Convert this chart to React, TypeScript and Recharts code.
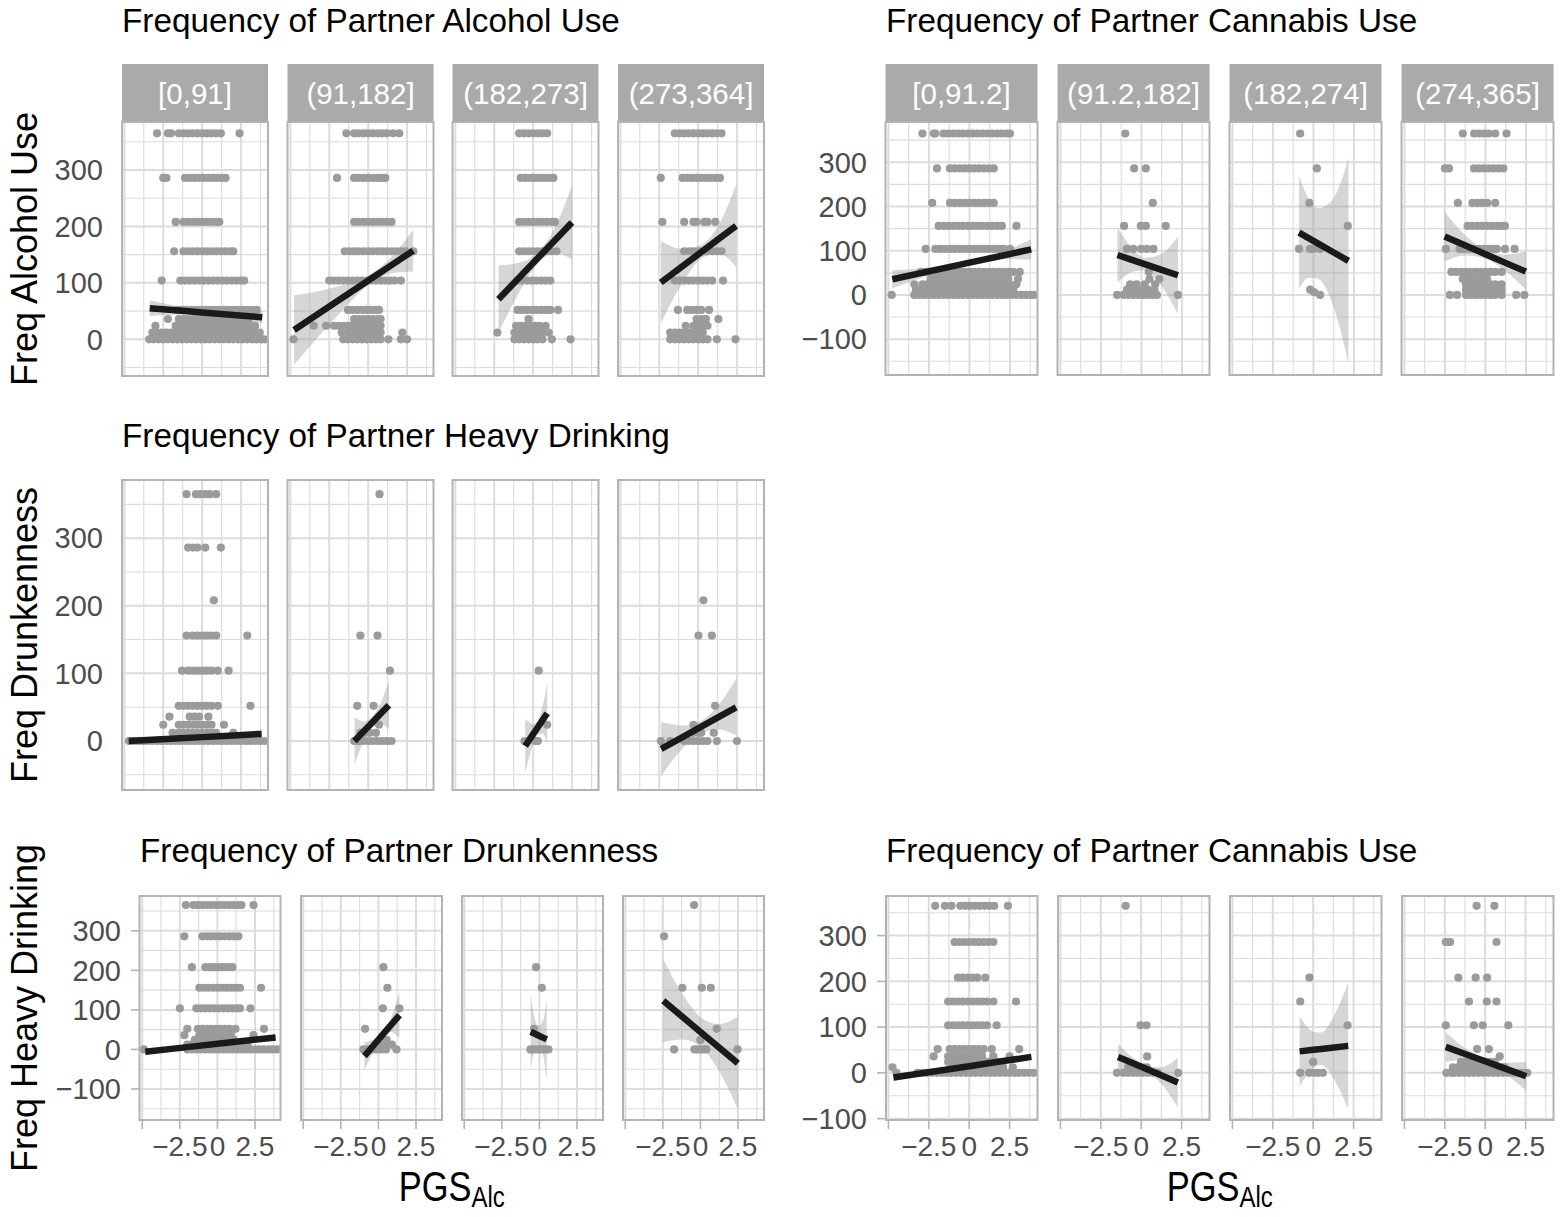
import React from "react";
import { Area, CartesianGrid, ComposedChart, Line, Scatter, XAxis, YAxis } from "recharts";

const FONT = "'Liberation Sans', Arial, Helvetica, sans-serif";
const POINT = "#9B9B9B";
const BORDER = "#B3B3B3";
const GRID = "#DCDCDC";
const STRIP = "#AAAAAA";
const TICK_TEXT = "#4D4D4D";

// shared PGS axis
const X_DOMAIN: [number, number] = [-5.15, 4.23];
const X_TICKS = [-5, -2.5, 0, 2.5];
const X_MINOR = [-3.75, -1.25, 1.25, 3.75];

const A_STRIPS = ["[0,91]", "(91,182]", "(182,273]", "(273,364]"];
const B_STRIPS = ["[0,91.2]", "(91.2,182]", "(182,274]", "(274,365]"];

const A_Y_TICKS = [0, 100, 200, 300];
const B_Y_TICKS = [-100, 0, 100, 200, 300];
const C_Y_TICKS = [0, 100, 200, 300];
const D_Y_TICKS = [-100, 0, 100, 200, 300];
const E_Y_TICKS = [-100, 0, 100, 200, 300];
const A_Y_MINOR = [-50, 50, 150, 250, 350];
const B_Y_MINOR = [-150, -50, 50, 150, 250, 350];
const C_Y_MINOR = [-50, 50, 150, 250, 350];
const D_Y_MINOR = [-150, -50, 50, 150, 250, 350];
const E_Y_MINOR = [-50, 50, 150, 250, 350];

// points: each row is [frequency, ...PGS values]
const A1_PTS = [
  [365, -2.9, -2.2, -2.0, -1.5, -1.2, -0.9, -0.6, -0.3, 0, 0.3, 0.6, 0.9, 1.2, 2.4],
  [286, -2.5, -2.3, -1.1, -0.8, -0.5, -0.2, 0.1, 0.4, 0.7, 1.0, 1.3, 1.5],
  [208, -1.7, -1.2, -0.9, -0.6, -0.3, 0, 0.3, 0.6, 0.9, 1.1],
  [156, -1.8, -1.2, -0.9, -0.6, -0.3, 0, 0.3, 0.6, 0.9, 1.2, 1.5, 1.8, 2.0],
  [104, -2.6, -1.4, -1.1, -0.8, -0.5, -0.2, 0.1, 0.4, 0.7, 1.0, 1.3, 1.6, 1.9, 2.2, 2.5, 2.7],
  [52, -1.6, -1.3, -1.0, -0.7, -0.4, -0.1, 0.2, 0.5, 0.8, 1.1, 1.4, 1.7, 2.0, 2.3, 2.6, 2.9, 3.2, 3.5],
  [36, -2.2, -1.5, -1.2, -0.9, -0.6, -0.3, 0, 0.3, 0.6, 0.9, 1.2, 1.5, 1.8, 2.1, 2.4, 2.7, 3.0],
  [24, -3.0, -1.7, -1.4, -1.1, -0.8, -0.5, -0.2, 0.1, 0.4, 0.7, 1.0, 1.3, 1.6, 1.9, 2.2, 2.5, 2.8, 3.1, 3.4],
  [12, -3.2, -2.9, -2.6, -2.3, -2.0, -1.7, -1.4, -1.1, -0.8, -0.5, -0.2, 0.1, 0.4, 0.7, 1.0, 1.3, 1.6, 1.9, 2.2, 2.5, 2.8, 3.1, 3.4, 3.7],
  [0, -3.4, -3.1, -2.8, -2.5, -2.2, -1.9, -1.6, -1.3, -1.0, -0.7, -0.4, -0.1, 0.2, 0.5, 0.8, 1.1, 1.4, 1.7, 2.0, 2.3, 2.6, 2.9, 3.2, 3.5, 3.8, 4.0],
];
const A2_PTS = [
  [365, -1.4, -0.9, -0.6, -0.3, 0, 0.3, 0.6, 0.9, 1.2, 1.6, 2.0],
  [286, -2.0, -0.9, -0.6, -0.3, 0, 0.3, 0.6, 0.9, 1.1],
  [208, -0.9, -0.6, -0.3, 0, 0.3, 0.6, 0.9, 1.2, 1.5],
  [156, -1.5, -1.2, -0.9, -0.6, -0.3, 0, 0.3, 0.6, 0.9, 1.2, 1.5, 1.8, 2.1, 2.4, 2.9],
  [104, -2.5, -2.2, -1.9, -1.6, -1.3, -1.0, -0.7, -0.4, -0.1, 0.2, 0.5, 0.8, 1.1, 1.4, 1.7, 2.1],
  [52, -1.3, -1.0, -0.7, -0.4, -0.1, 0.2, 0.5, 0.7],
  [36, -0.9, -0.6, -0.3, 0, 0.3, 0.6, 0.8],
  [24, -3.5, -2.7, -2.2, -1.9, -1.6, -1.3, -1.0, -0.7, -0.4, -0.1, 0.2, 0.5, 0.8],
  [12, -1.7, -1.3, -1.0, -0.7, -0.4, -0.1, 0.2, 0.5, 0.8, 2.2],
  [0, -4.8, -1.6, -1.3, -1.0, -0.7, -0.4, -0.1, 0.2, 0.5, 0.8, 1.3, 2.1, 2.5],
];
const A3_PTS = [
  [365, -0.9, -0.6, -0.3, 0, 0.3, 0.6, 0.9],
  [286, -0.8, -0.5, -0.2, 0.1, 0.4, 0.7, 1.0, 1.3],
  [208, -0.9, -0.6, -0.3, 0, 0.3, 0.6, 0.9, 1.2, 1.4],
  [156, -0.9, -0.6, -0.3, 0, 0.3, 0.6, 0.9, 1.2, 1.5],
  [104, -1.0, -0.7, -0.4, -0.1, 0.2, 0.5, 0.8, 1.1],
  [52, -1.0, -0.7, -0.4, -0.1, 0.2, 0.5, 0.8, 1.1, 1.6],
  [36, -0.3],
  [24, -1.1, -0.8, -0.5, -0.2, 0.1, 0.4, 0.8],
  [12, -2.3, -1.2, -0.9, -0.6, -0.3, 0, 0.3, 0.6, 1.0],
  [0, -1.2, -0.9, -0.6, -0.3, 0, 0.3, 0.6, 1.2, 2.4],
];
const A4_PTS = [
  [365, -1.5, -1.2, -0.9, -0.6, -0.3, 0, 0.3, 0.6, 0.9, 1.2, 1.5],
  [286, -2.4, -1.0, -0.7, -0.4, -0.1, 0.2, 0.5, 0.8, 1.1, 1.4],
  [208, -2.3, -0.9, -0.3, -0.1, 0.4, 0.6, 1.1],
  [156, -0.9, -0.6, -0.3, 0, 0.3, 0.6, 0.9, 1.2, 1.5],
  [104, -1.5, -1.2, -0.9, -0.6, -0.3, 0, 0.3, 0.6, 0.9, 1.6],
  [52, -1.3, -0.7, -0.4, -0.1, 0.2, 0.7],
  [36, -0.1, 0.2, 0.5, 1.3],
  [24, -0.8, -0.3, 0, 0.3, 0.6],
  [12, -1.8, -1.5, -1.2, -0.9, -0.6, -0.3, 0, 0.3],
  [0, -1.8, -1.5, -1.2, -0.9, -0.6, -0.3, 0, 0.3, 0.6, 1.2, 2.4],
];

const B1_PTS = [
  [365, -2.9, -2.2, -2.1, -1.6, -1.3, -1.0, -0.7, -0.4, -0.1, 0.2, 0.5, 0.8, 1.1, 1.4, 1.7, 2.0, 2.3, 2.5],
  [286, -2.0, -1.2, -0.9, -0.6, -0.3, 0, 0.3, 0.6, 0.9, 1.2, 1.5],
  [208, -2.3, -1.2, -0.9, -0.6, -0.3, 0, 0.3, 0.6, 0.9, 1.2, 1.5],
  [156, -1.9, -1.6, -1.3, -1.0, -0.7, -0.4, -0.1, 0.2, 0.5, 0.8, 1.1, 1.4, 1.7, 2.0, 2.9],
  [104, -2.7, -2.1, -1.8, -1.5, -1.2, -0.9, -0.6, -0.3, 0, 0.3, 0.6, 0.9, 1.2, 1.5, 1.8, 2.1, 2.5],
  [52, -3.0, -2.7, -2.4, -2.1, -1.8, -1.5, -1.2, -0.9, -0.6, -0.3, 0, 0.3, 0.6, 0.9, 1.2, 1.5, 1.8, 2.1, 2.4, 2.7, 3.1],
  [36, -2.4, -2.1, -1.8, -1.5, -1.2, -0.9, -0.6, -0.3, 0, 0.3, 0.6, 0.9, 1.2, 1.5, 1.8, 2.1, 2.4, 3.0],
  [24, -3.4, -2.9, -2.6, -2.3, -2.0, -1.7, -1.4, -1.1, -0.8, -0.5, -0.2, 0.1, 0.4, 0.7, 1.0, 1.3, 1.6, 1.9, 2.2, 2.5, 2.9],
  [12, -3.3, -3.0, -2.7, -2.4, -2.1, -1.8, -1.5, -1.2, -0.9, -0.6, -0.3, 0, 0.3, 0.6, 0.9, 1.2, 1.5, 1.8, 2.1, 2.4, 2.7],
  [0, -4.8, -3.4, -3.1, -2.8, -2.5, -2.2, -1.9, -1.6, -1.3, -1.0, -0.7, -0.4, -0.1, 0.2, 0.5, 0.8, 1.1, 1.4, 1.7, 2.0, 2.3, 2.6, 2.9, 3.2, 3.5, 3.8, 4.0],
];
const B2_PTS = [
  [365, -1.0],
  [286, -0.45, 0.27],
  [208, 0.7],
  [156, -1.07, -0.04, 0.27, 1.5],
  [104, -0.9, -0.5, -0.02, 0.33, 0.74],
  [52, 0.45],
  [36, 0.5, 1.1],
  [24, -0.7, -0.3, 0.2, 0.85],
  [12, -0.9, -0.5, -0.2, 0.1, 0.4, 0.8],
  [0, -1.5, -1.1, -0.8, -0.5, -0.2, 0.1, 0.4, 0.7, 0.95, 2.25],
];
const B3_PTS = [
  [365, -0.82],
  [286, 0.21],
  [208, -0.25],
  [156, 2.12],
  [104, -0.89, -0.21, 0.0, 0.41],
  [12, -0.2],
  [6, 0.05],
  [0, 0.41],
];
const B4_PTS = [
  [365, -1.4, -0.7, -0.4, -0.1, 0.2, 0.6, 1.3],
  [286, -2.5, -2.25, -0.7, -0.4, -0.1, 0.2, 0.5, 0.8, 1.1],
  [208, -1.7, -0.8, -0.5, -0.2, 0.1, 0.6],
  [156, -1.1, -0.8, -0.5, -0.2, 0.1, 0.4, 0.7, 1.0, 1.2],
  [104, -2.45, -1.6, -1.3, -1.0, -0.7, -0.4, -0.1, 0.2, 0.5, 0.7, 1.2, 1.8],
  [52, -2.1, -1.8, -1.5, -1.2, -0.9, -0.6, -0.3, 0, 0.3, 0.6, 1.0],
  [36, -1.4, -1.1, -0.8, -0.5, -0.2, 0.1],
  [24, -1.2, -0.9, -0.6, -0.3, 0, 0.3, 0.6, 1.0],
  [12, -1.2, -0.9, -0.6, -0.3, 0, 0.3, 0.6, 1.0],
  [0, -2.2, -1.75, -1.2, -0.9, -0.6, -0.3, 0, 0.3, 0.6, 1.0, 1.9, 2.4],
];

const C1_PTS = [
  [365, -1.0, -0.4, -0.1, 0.2, 0.5, 0.9],
  [286, -0.9, -0.6, -0.3, 0.2, 1.2],
  [208, 0.75],
  [156, -1.0, -0.6, -0.3, 0, 0.3, 0.6, 0.9, 2.9],
  [104, -1.3, -0.9, -0.6, -0.3, 0, 0.3, 0.6, 1.0, 1.7],
  [52, -1.5, -1.2, -0.9, -0.6, -0.3, 0, 0.3, 0.6, 1.0, 3.1],
  [36, -2.1, -0.8, -0.5, -0.2, 0.4],
  [24, -2.5, -1.5, -1.2, -0.9, -0.6, -0.3, 0, 0.3, 0.6, 1.4],
  [12, -1.9, -1.5, -1.2, -0.9, -0.6, -0.3, 0, 0.3, 0.6, 0.9, 2.0],
  [0, -4.7, -4.4, -4.1, -3.8, -3.5, -3.2, -2.9, -2.6, -2.3, -2.0, -1.7, -1.4, -1.1, -0.8, -0.5, -0.2, 0.1, 0.4, 0.7, 1.0, 1.3, 1.6, 1.9, 2.2, 2.5, 2.8, 3.1, 3.4, 3.7, 4.0],
];
const C2_PTS = [
  [365, 0.73],
  [156, -0.5, 0.6],
  [104, 1.4],
  [52, -0.7, 0.35],
  [24, 0.7],
  [12, -0.5, -0.2, 0.1, 0.5],
  [0, -0.9, -0.6, -0.3, 0, 0.3, 0.6, 0.9, 1.2, 1.5],
];
const C3_PTS = [
  [104, 0.36],
  [24, 0.9],
  [0, -0.56, 0.13, 0.3],
];
const C4_PTS = [
  [208, 0.34],
  [156, 0.02, 0.88],
  [52, 1.09],
  [24, -0.3],
  [12, -0.3, 0.0, 0.2, 1.0],
  [0, -2.4, -1.8, -0.9, -0.6, -0.3, 0, 0.3, 0.6, 1.2, 2.49],
];

const D1_PTS = [
  [365, -2.1, -1.6, -1.3, -1.0, -0.7, -0.4, -0.1, 0.2, 0.5, 0.8, 1.1, 1.4, 1.6, 2.4],
  [286, -2.2, -1.0, -0.7, -0.4, -0.1, 0.2, 0.5, 0.8, 1.1, 1.4],
  [208, -1.7, -0.8, -0.5, -0.2, 0.1, 0.4, 0.7, 1.0],
  [156, -1.2, -0.9, -0.6, -0.3, 0, 0.3, 0.6, 0.9, 1.2, 1.5, 2.9],
  [104, -2.5, -1.4, -1.1, -0.8, -0.5, -0.2, 0.1, 0.4, 0.7, 1.0, 1.3, 1.5, 2.2],
  [52, -2.0, -1.3, -1.0, -0.7, -0.4, -0.1, 0.2, 0.5, 0.8, 1.2, 3.1],
  [36, -2.2, -1.2, -0.9, -0.6, -0.3, 0, 0.3, 0.6, 0.9, 2.4],
  [24, -1.5, -1.2, -0.9, -0.6, -0.3, 0, 0.3, 0.6, 0.9, 1.1],
  [12, -2.0, -1.7, -1.4, -1.1, -0.8, -0.5, -0.2, 0.1, 0.4, 0.7, 1.0, 1.3, 1.6, 2.0],
  [0, -4.9, -2.0, -1.7, -1.4, -1.1, -0.8, -0.5, -0.2, 0.1, 0.4, 0.7, 1.0, 1.3, 1.6, 1.9, 2.2, 2.5, 2.8, 3.1, 3.4, 3.7, 4.0],
];
const D2_PTS = [
  [208, 0.33],
  [156, 0.6],
  [104, 0.29, 1.4],
  [52, -0.89],
  [24, 0.55],
  [12, -0.1, 0.2, 0.5, 0.9],
  [0, -1.0, -0.7, -0.4, -0.1, 0.2, 0.5, 1.2],
];
const D3_PTS = [
  [208, -0.22],
  [156, 0.16],
  [52, -0.36],
  [0, -0.6, -0.4, -0.2, 0, 0.2, 0.4, 0.6],
];
const D4_PTS = [
  [365, -0.42],
  [286, -2.42],
  [156, -1.2, 0.09, 0.69],
  [52, 1.09],
  [24, 0.0],
  [0, -1.75, -0.4, -0.2, 0.0, 0.2, 0.4, 2.47],
];

const E1_PTS = [
  [365, -2.1, -1.5, -1.1, -0.55, -0.25, 0.05, 0.35, 0.65, 0.95, 1.25, 1.55, 2.4],
  [286, -0.9, -0.6, -0.3, 0, 0.3, 0.6, 0.9, 1.2, 1.5],
  [208, -0.7, -0.4, -0.1, 0.2, 0.5, 1.0],
  [156, -1.3, -1.0, -0.7, -0.4, -0.1, 0.2, 0.5, 0.8, 1.1, 1.5, 2.9],
  [104, -1.3, -1.0, -0.7, -0.4, -0.1, 0.2, 0.5, 0.8, 1.1, 1.7],
  [52, -1.95, -1.2, -0.9, -0.6, -0.3, 0, 0.3, 0.6, 0.9, 1.4, 3.1],
  [36, -2.2, -1.3, -1.0, -0.7, -0.4, -0.1, 0.2, 0.5, 0.8, 1.5, 2.5],
  [24, -1.3, -1.0, -0.7, -0.4, -0.1, 0.2, 0.5, 0.8, 1.2, 1.7],
  [12, -4.75, -1.0, -0.7, -0.4, -0.1, 0.2, 0.5, 0.8, 1.1, 1.4, 1.7, 2.1, 2.7],
  [0, -4.5, -3.2, -2.9, -2.6, -2.3, -2.0, -1.7, -1.4, -1.1, -0.8, -0.5, -0.2, 0.1, 0.4, 0.7, 1.0, 1.3, 1.6, 1.9, 2.2, 2.5, 2.8, 3.1, 3.4, 3.7, 4.0],
];
const E2_PTS = [
  [365, -0.96],
  [104, -0.04, 0.33],
  [36, 0.37],
  [12, -0.8, -0.5, -0.2, 0.1, 0.35],
  [0, -1.5, -1.1, -0.8, -0.5, -0.2, 0.1, 0.4, 0.7, 1.0, 2.3],
];
const E3_PTS = [
  [208, -0.23],
  [156, -0.8],
  [104, 2.13],
  [24, 0.0],
  [0, -0.8, -0.25, 0.05, 0.3, 0.6],
];
const E4_PTS = [
  [365, -0.53, 0.57],
  [286, -2.44, -2.3, -2.17, 0.7],
  [208, -1.66, -0.59, 0.12],
  [156, -1.0, 0.1, 0.7],
  [104, -2.44, -0.7, -0.15, 1.43],
  [52, -0.5, 0.23],
  [36, 0.9],
  [24, -1.5, -1.2, -0.9, -0.6, -0.3, 0, 0.3, 0.6],
  [12, -2.0, -1.7, -1.4, -1.1, -0.8, -0.5, -0.2, 0.1, 0.4, 0.7, 1.0, 1.2],
  [0, -2.4, -2.1, -1.9, -1.6, -1.3, -1.0, -0.7, -0.4, -0.1, 0.2, 0.5, 0.8, 1.1, 1.4, 1.7, 2.0, 2.3, 2.6],
];

// lm fits: [PGS, fit, lower, upper]
const A1_FIT = [[-3.37, 55, 41, 69], [-1.5, 50.9, 44, 58], [0.2, 47.1, 43, 51], [2.0, 43.1, 37, 49], [3.86, 39, 28, 50]];
const A2_FIT = [[-4.76, 16.6, -45, 78], [-2.5, 58.1, 26, 90], [0.3, 109.5, 101, 118], [1.5, 131.5, 117, 146], [2.89, 157, 120, 194]];
const A3_FIT = [[-2.23, 71, 11, 131], [-1.0, 106.4, 78, 135], [0.3, 143.9, 134, 154], [1.4, 175.6, 153, 198], [2.49, 207, 142, 272]];
const A4_FIT = [[-2.4, 100.6, 27, 174], [-1.0, 129.7, 100, 160], [0.3, 156.6, 145, 169], [1.3, 177.4, 152, 202], [2.44, 201, 128, 274]];
const B1_FIT = [[-4.76, 35.4, 15, 56], [-2.5, 53.2, 44, 62], [0, 73.0, 69, 77], [2.0, 88.7, 81, 97], [3.81, 103, 80, 126]];
const B2_FIT = [[-1.48, 90.4, 28, 152], [-0.5, 78.3, 53, 103], [0.2, 69.7, 56, 84], [1.2, 57.4, 22, 92], [2.25, 44.5, -43, 132]];
const B3_FIT = [[-0.89, 141, 13, 269], [-0.3, 128.6, 39, 218], [0.3, 116, 36, 196], [1.2, 97.1, -23, 217], [2.16, 77, -154, 308]];
const B4_FIT = [[-2.52, 132, 76, 188], [-1.2, 111.1, 89, 133], [0, 92.1, 82, 102], [1.2, 73.1, 55, 91], [2.49, 52.8, 12, 98]];
const C1_FIT = [[-4.72, 0, -6, 6], [-2.0, 3.3, 0, 6.6], [0, 5.7, 3.7, 7.7], [2.0, 8.2, 5, 11.4], [3.82, 10.4, 4.4, 16.4]];
const C2_FIT = [[-0.88, 0, -35, 35], [-0.3, 13.9, -1, 29], [0.2, 25.9, 18, 34], [0.8, 40.3, 25, 56], [1.33, 53, 17, 89]];
const C3_FIT = [[-0.51, -7.4, -47, 33], [0.0, 10.1, -5, 25], [0.3, 20.4, 10, 31], [0.6, 30.7, 11, 51], [0.9, 41, -5, 87]];
const C4_FIT = [[-2.38, -11.8, -52, 28], [-1.0, 5.8, -11, 23], [0.2, 21.1, 12, 30], [1.3, 35.2, 17, 53], [2.44, 49.8, 8, 92]];
const D1_FIT = [[-4.8, -5.9, -14, 2], [-2.0, 5.8, 2, 10], [0, 14.2, 11, 17], [2.0, 22.5, 18.5, 26.5], [3.87, 30.3, 22, 38]];
const D2_FIT = [[-0.93, -16.8, -53, 19], [-0.3, 11.2, -4, 26], [0.2, 33.4, 25, 41], [0.8, 60.1, 44, 76], [1.4, 86.7, 28, 145]];
const D3_FIT = [[-0.58, 44.6, -52, 141], [-0.3, 39.5, 2, 77], [-0.1, 35.8, 12, 60], [0.2, 30.5, -8, 69], [0.49, 25.3, -76, 126]];
const D4_FIT = [[-2.47, 123, 18, 228], [-1.2, 82.5, 25, 140], [0.2, 38, 0, 76], [1.2, 6.1, -52, 64], [2.49, -35, -152, 82]];
const E1_FIT = [[-4.69, -10.2, -18, -2], [-2.0, 4.0, 0, 8], [0, 14.6, 11.6, 17.6], [2.0, 25.2, 21, 29.4], [3.85, 34.9, 28, 42]];
const E2_FIT = [[-1.43, 34.9, 6, 64], [-0.5, 20.8, 9, 33], [0.3, 8.8, 1, 17], [1.2, -4.8, -22, 12], [2.27, -21, -75, 33]];
const E3_FIT = [[-0.84, 47, -30, 124], [0, 50.3, 10, 90], [0.5, 52.3, 17, 88], [1.3, 55.5, -15, 126], [2.17, 59, -79, 197]];
const E4_FIT = [[-2.44, 56.7, 24, 89], [-1.2, 40.8, 29, 53], [0, 25.3, 18, 32], [1.2, 9.9, -2, 22], [2.54, -7.3, -39, 24]];

type Group = {
  title: string;
  titleX: number;
  titleY: number;
  yLabel?: string;
  strips?: string[];
  lefts: number[];
  w: number;
  top: number;
  h: number;
  yDomain: [number, number];
  yTicks: number[];
  yMinor: number[];
  pts: number[][][];
  fits: number[][][];
  xAxis: boolean;
};

const GROUPS: Group[] = [
  {
    title: "Frequency of Partner Alcohol Use", titleX: 122, titleY: 32, yLabel: "Freq Alcohol Use",
    strips: A_STRIPS, lefts: [122, 287.5, 452.5, 618], w: 146, top: 122, h: 254,
    yDomain: [-65, 385], yTicks: A_Y_TICKS, yMinor: A_Y_MINOR,
    pts: [A1_PTS, A2_PTS, A3_PTS, A4_PTS], fits: [A1_FIT, A2_FIT, A3_FIT, A4_FIT], xAxis: false,
  },
  {
    title: "Frequency of Partner Cannabis Use", titleX: 886, titleY: 32,
    strips: B_STRIPS, lefts: [885.5, 1057.5, 1229.5, 1401.5], w: 152, top: 122, h: 253,
    yDomain: [-181, 391], yTicks: B_Y_TICKS, yMinor: B_Y_MINOR,
    pts: [B1_PTS, B2_PTS, B3_PTS, B4_PTS], fits: [B1_FIT, B2_FIT, B3_FIT, B4_FIT], xAxis: false,
  },
  {
    title: "Frequency of Partner Heavy Drinking", titleX: 122, titleY: 447, yLabel: "Freq Drunkenness",
    lefts: [122, 287.5, 452.5, 618], w: 146, top: 480, h: 310,
    yDomain: [-72.5, 386], yTicks: C_Y_TICKS, yMinor: C_Y_MINOR,
    pts: [C1_PTS, C2_PTS, C3_PTS, C4_PTS], fits: [C1_FIT, C2_FIT, C3_FIT, C4_FIT], xAxis: false,
  },
  {
    title: "Frequency of Partner Drunkenness", titleX: 140, titleY: 862, yLabel: "Freq Heavy Drinking",
    lefts: [139.5, 301, 462, 623], w: 141, top: 896, h: 224,
    yDomain: [-178.5, 388], yTicks: D_Y_TICKS, yMinor: D_Y_MINOR,
    pts: [D1_PTS, D2_PTS, D3_PTS, D4_PTS], fits: [D1_FIT, D2_FIT, D3_FIT, D4_FIT], xAxis: true,
  },
  {
    title: "Frequency of Partner Cannabis Use", titleX: 886, titleY: 862,
    lefts: [886, 1058, 1230, 1402], w: 151.5, top: 896, h: 224,
    yDomain: [-103, 386.5], yTicks: E_Y_TICKS, yMinor: E_Y_MINOR,
    pts: [E1_PTS, E2_PTS, E3_PTS, E4_PTS], fits: [E1_FIT, E2_FIT, E3_FIT, E4_FIT], xAxis: true,
  },
];

const toPoints = (rows: number[][]) => rows.flatMap(([y, ...xs]) => xs.map((x) => ({ x, y })));
const toFit = (rows: number[][]) => rows.map(([x, fit, lo, hi]) => ({ x, fit, band: [lo, hi] }));
const minus = (v: number) => (v < 0 ? "\u2212" + Math.abs(v) : String(v));
const fmtX = (v: number) => (v === -5 ? "" : minus(v));

const Dot = (p: any) => <circle cx={p.cx} cy={p.cy} r={4.1} fill={POINT} />;

function Panel({ g, i }: { g: Group; i: number }) {
  const first = i === 0;
  const padL = first ? 130 : 0;
  const padB = g.xAxis ? 60 : 0;
  const tickLine = g.xAxis ? { stroke: BORDER, strokeWidth: 1.6 } : false;
  const tickStyle = { fontSize: 28, fill: TICK_TEXT, fontFamily: FONT };
  return (
    <div style={{ position: "absolute", left: g.lefts[i] - padL, top: g.top }}>
      <ComposedChart
        width={g.w + padL}
        height={g.h + padB}
        data={toFit(g.fits[i])}
        margin={{ top: 0, right: 0, bottom: 0, left: 0 }}
      >
        <CartesianGrid stroke={GRID} strokeWidth={1.1} horizontalValues={g.yMinor} verticalValues={X_MINOR} />
        <CartesianGrid stroke={GRID} strokeWidth={2} horizontalValues={g.yTicks} verticalValues={X_TICKS} />
        <XAxis
          type="number"
          dataKey="x"
          domain={X_DOMAIN}
          allowDataOverflow
          ticks={X_TICKS}
          interval={0}
          hide={!g.xAxis}
          height={padB}
          axisLine={false}
          tickLine={tickLine}
          tickSize={9}
          tickMargin={7}
          tick={tickStyle}
          tickFormatter={fmtX}
        />
        <YAxis
          type="number"
          domain={g.yDomain}
          allowDataOverflow
          ticks={g.yTicks}
          interval={0}
          hide={!first}
          width={padL}
          axisLine={false}
          tickLine={tickLine}
          tickSize={9}
          tickMargin={10}
          tick={{ ...tickStyle, fontSize: 29 }}
          tickFormatter={minus}
        />
        <Scatter data={toPoints(g.pts[i])} dataKey="y" shape={Dot} isAnimationActive={false} zIndex={100} />
        <Area
          type="monotone"
          dataKey="band"
          fill="#999999"
          fillOpacity={0.4}
          stroke="none"
          activeDot={false}
          isAnimationActive={false}
          zIndex={200}
        />
        <Line
          type="linear"
          dataKey="fit"
          stroke="#1A1A1A"
          strokeWidth={6.5}
          dot={false}
          activeDot={false}
          isAnimationActive={false}
          zIndex={300}
        />
      </ComposedChart>
    </div>
  );
}

function Overlay() {
  return (
    <svg
      width={1566}
      height={1217}
      style={{ position: "absolute", left: 0, top: 0, pointerEvents: "none" }}
      fontFamily={FONT}
    >
      {GROUPS.map((g, gi) => (
        <g key={gi}>
          <text x={g.titleX} y={g.titleY} fontSize={33.3} fill="#000">
            {g.title}
          </text>
          {g.yLabel && (
            <text
              transform={`translate(37 ${g.top + g.h / 2}) rotate(-90)`}
              textAnchor="middle"
              fontSize={36}
              fill="#000"
            >
              {g.yLabel}
            </text>
          )}
          {g.lefts.map((l, i) => (
            <g key={i}>
              {g.strips && (
                <>
                  <rect x={l} y={64} width={g.w} height={58} fill={STRIP} />
                  <text x={l + g.w / 2} y={103.5} textAnchor="middle" fontSize={29.5} fill="#FFFFFF">
                    {g.strips[i]}
                  </text>
                </>
              )}
              <rect x={l} y={g.top} width={g.w} height={g.h} fill="none" stroke={BORDER} strokeWidth={2} />
            </g>
          ))}
          {g.xAxis && (
            <text
              transform={`translate(${(g.lefts[0] + g.lefts[3] + g.w) / 2} 1201) scale(0.8 1)`}
              textAnchor="middle"
              fill="#000"
            >
              <tspan fontSize={43}>PGS</tspan>
              <tspan fontSize={30} dy={6}>Alc</tspan>
            </text>
          )}
        </g>
      ))}
    </svg>
  );
}

export default function App() {
  return (
    <div style={{ position: "absolute", left: 0, top: 0, width: 1566, height: 1217, background: "#FFFFFF" }}>
      {GROUPS.map((g, gi) => g.lefts.map((_, i) => <Panel key={`${gi}-${i}`} g={g} i={i} />))}
      <Overlay />
    </div>
  );
}
